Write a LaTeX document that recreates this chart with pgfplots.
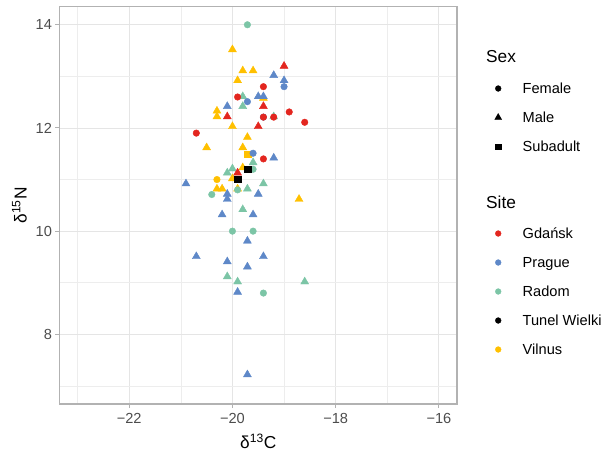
\documentclass[border=0pt]{standalone}
\usepackage{pgfplots}
\pgfplotsset{compat=1.18}
\usepackage{fontspec}
\setmainfont{Liberation Sans}

\definecolor{gdansk}{HTML}{E3261F}
\definecolor{prague}{HTML}{5E88C8}
\definecolor{radom}{HTML}{7CC5A6}
\definecolor{vilnus}{HTML}{FFC000}

\newcommand{\tfont}{\fontsize{14.6bp}{17bp}\selectfont}
\newcommand{\hfont}{\fontsize{17.3bp}{20bp}\selectfont}

\begin{document}
\begin{tikzpicture}
\useasboundingbox (-59.5bp,-49bp) rectangle (543.5bp,404bp);
\begin{axis}[
  at={(0,0)}, anchor=south west,
  scale only axis, width=397.5bp, height=397.3bp,
  xmin=-23.35, xmax=-15.65, ymin=6.65, ymax=14.35,
  xtick={-22,-20,-18,-16}, xticklabels={−22,−20,−18,−16},
  ytick={8,10,12,14},
  minor xtick={-23,-21,-19,-17}, minor ytick={7,9,11,13},
  grid=both,
  major grid style={draw=black!10, line width=0.9bp},
  minor grid style={draw=black!7, line width=0.6bp},
  axis line style={draw=black!30, line width=1.1bp},
  tick pos=left, tick align=outside,
  major tick length=4bp, minor tick length=0pt,
  tick style={draw=black!30, line width=1bp},
  tick label style={font=\tfont, text=black!70},
  xticklabel style={yshift=-2bp},
  /pgf/number format/assume math mode=true,
  xlabel={δ\textsuperscript{13}C},
  ylabel={δ\textsuperscript{15}N},
  label style={font=\hfont},
  xlabel style={at={(axis description cs:0.5,-0.1115)}, anchor=base},
  ylabel style={at={(axis description cs:-0.0825,0.5)}, anchor=base},
  legend cell align=left,
  legend style={at={(axis description cs:1.0818,0.8827)}, anchor=north west,
    draw=none, fill=none, inner sep=0pt, row sep=17bp, column sep=21bp,
    font=\tfont, nodes={inner sep=0pt, text height=11bp, text depth=1bp}},
]

% Vilnus
\addplot[only marks, mark=triangle*, mark size=4.6bp, color=vilnus, forget plot] coordinates {
(-20.0,13.52) (-19.8,13.11) (-19.6,13.11) (-19.9,12.92) (-19.4,12.58)
(-20.3,12.33) (-20.3,12.22) (-20.0,12.03) (-19.71,11.82) (-20.5,11.62)
(-19.8,11.62) (-19.8,11.23) (-20.0,11.02) (-20.3,10.82) (-20.2,10.82)
(-19.9,10.82) (-18.71,10.62)
};
\addplot[only marks, mark=*, mark size=3.3bp, color=vilnus, forget plot] coordinates {
(-20.3,11.0)
};
\addplot[only marks, mark=square*, mark size=3.3bp, color=vilnus, forget plot] coordinates {
(-19.71,11.49)
};

% Radom
\addplot[only marks, mark=triangle*, mark size=4.6bp, color=radom, forget plot] coordinates {
(-19.8,12.61) (-19.8,12.42) (-19.2,12.22) (-19.6,11.33) (-20.0,11.21)
(-20.1,11.13) (-19.4,10.92) (-19.71,10.82) (-19.8,10.42) (-20.1,9.12)
(-19.9,9.02) (-18.6,9.02)
};
\addplot[only marks, mark=*, mark size=3.3bp, color=radom, forget plot] coordinates {
(-19.71,14.0) (-19.6,11.2) (-19.9,10.8) (-20.4,10.71) (-20.0,10.0)
(-19.6,10.0) (-19.4,8.8)
};

% Prague
\addplot[only marks, mark=triangle*, mark size=4.6bp, color=prague, forget plot] coordinates {
(-19.2,13.02) (-19.0,12.92) (-19.5,12.61) (-19.4,12.61) (-20.1,12.42)
(-19.2,11.42) (-20.9,10.92) (-20.1,10.72) (-20.1,10.62) (-19.5,10.72)
(-20.2,10.32) (-19.6,10.32) (-19.71,9.81) (-20.7,9.51) (-19.4,9.51)
(-20.1,9.41) (-19.71,9.31) (-19.9,8.82) (-19.71,7.22)
};
\addplot[only marks, mark=*, mark size=3.3bp, color=prague, forget plot] coordinates {
(-19.0,12.8) (-19.71,12.51) (-19.4,12.21) (-19.6,11.51)
};

% Gdansk
\addplot[only marks, mark=triangle*, mark size=4.6bp, color=gdansk, forget plot] coordinates {
(-19.0,13.2) (-19.4,12.42) (-20.1,12.22) (-19.5,12.03) (-19.9,11.13)
};
\addplot[only marks, mark=*, mark size=3.3bp, color=gdansk, forget plot] coordinates {
(-19.4,12.8) (-19.9,12.6) (-18.9,12.31) (-19.4,12.21) (-19.2,12.21)
(-18.6,12.11) (-20.7,11.9) (-19.4,11.4)
};

% Tunel Wielki
\addplot[only marks, mark=square*, mark size=3.3bp, color=black, forget plot] coordinates {
(-19.7,11.2) (-19.9,11.01)
};

% legend
\addlegendimage{empty legend}
\addlegendentry{\makebox[0pt][l]{\hspace*{-37bp}\raisebox{1.6bp}{\hfont Sex}}}
\addlegendimage{only marks, mark=*, mark size=2.9bp, black}
\addlegendentry{Female}
\addlegendimage{only marks, mark=triangle*, mark size=4bp, black}
\addlegendentry{Male}
\addlegendimage{only marks, mark=square*, mark size=2.7bp, black}
\addlegendentry{Subadult}
\addlegendimage{empty legend}
\addlegendentry{}
\addlegendimage{empty legend}
\addlegendentry{\makebox[0pt][l]{\hspace*{-37bp}\raisebox{1bp}{\hfont Site}}}
\addlegendimage{only marks, mark=*, mark size=2.9bp, gdansk}
\addlegendentry{Gdańsk}
\addlegendimage{only marks, mark=*, mark size=2.9bp, prague}
\addlegendentry{Prague}
\addlegendimage{only marks, mark=*, mark size=2.9bp, radom}
\addlegendentry{Radom}
\addlegendimage{only marks, mark=*, mark size=2.9bp, black}
\addlegendentry{Tunel Wielki}
\addlegendimage{only marks, mark=*, mark size=2.9bp, vilnus}
\addlegendentry{Vilnus}

\end{axis}
\end{tikzpicture}
\end{document}
